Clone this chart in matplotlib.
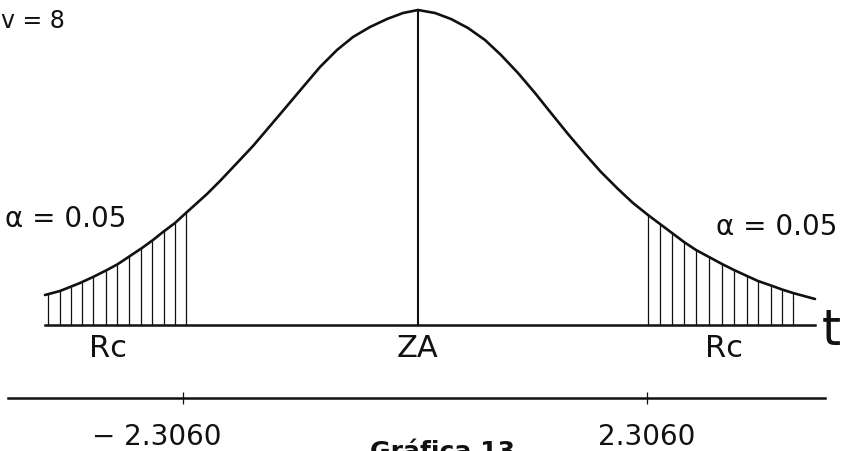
import numpy as np
import matplotlib
matplotlib.use("Agg")
import matplotlib.pyplot as plt
from matplotlib.transforms import ScaledTranslation, blended_transform_factory

# -----------------------------
# DATA
# -----------------------------
df = 8
alpha = 0.05
t_crit = 2.3060

# hand drawn curve: t value and height above the base line
curve_t = [-3.73, -3.58, -3.48, -3.38, -3.25, -3.11, -3.00, -2.88, -2.76, -2.65,
           -2.55, -2.43, -2.31, -2.11, -1.98, -1.81, -1.65, -1.48, -1.31, -1.15,
           -0.98, -0.81, -0.65, -0.48, -0.31, -0.15, 0.00, 0.17, 0.33, 0.50,
           0.67, 0.83, 1.00, 1.17, 1.33, 1.50, 1.67, 1.83, 2.00, 2.15,
           2.30, 2.42, 2.54, 2.66, 2.78, 2.91, 3.04, 3.16, 3.29, 3.40,
           3.53, 3.64, 3.75, 3.97]
curve_h = [30, 34, 38, 42, 48, 55, 61, 69, 77, 85,
           93, 102, 113, 131, 144, 162, 179, 199, 219, 238,
           258, 275, 288, 298, 306, 312, 315, 312, 306, 297,
           285, 270, 252, 232, 212, 191, 171, 153, 136, 122,
           110, 101, 92, 83, 75, 68, 61, 55, 49, 44,
           39.5, 35.5, 32, 26]

# vertical hatch lines in the two rejection regions
hatch_left = [-3.70, -3.58, -3.47, -3.36, -3.25, -3.12, -3.01, -2.89, -2.77,
              -2.66, -2.54, -2.43, -2.32]
hatch_right = [2.30, 2.42, 2.54, 2.66, 2.78, 2.91, 3.04, 3.16, 3.29, 3.40,
               3.53, 3.64, 3.75]

INK = "#111111"

# -----------------------------
# FIGURE
# -----------------------------
fig = plt.figure(figsize=(8.43, 4.51), dpi=100)
ax = fig.add_axes([0, 0, 1, 1])
ax.set_xlim(-4.18, 4.25)
ax.set_ylim(-126, 325)
ax.axis("off")

ax.plot(curve_t, curve_h, color=INK, lw=1.9, solid_joinstyle="round",
        solid_capstyle="round")
ax.plot([curve_t[0], curve_t[-1]], [0, 0], color=INK, lw=1.8)
ax.plot([0, 0], [0, max(curve_h)], color=INK, lw=1.5)

hx = np.array(hatch_left + hatch_right)
ax.vlines(hx, 0, np.interp(hx, curve_t, curve_h), color=INK, lw=0.9)

# labels on the curve
ax.text(-4.17, 297, f"v = {df}", fontsize=17, color=INK, ha="left", va="baseline")
ax.text(-3.52, 98, f"α = {alpha:.2f}", fontsize=20, color=INK, ha="center", va="baseline")
ax.text(3.59, 90, f"α = {alpha:.2f}", fontsize=20, color=INK, ha="center", va="baseline")
ax.text(-3.10, -32, "Rc", fontsize=22, color=INK, ha="center", va="baseline")
ax.text(0.0, -32, "ZA", fontsize=22, color=INK, ha="center", va="baseline")
ax.text(3.06, -32, "Rc", fontsize=22, color=INK, ha="center", va="baseline")
ax.text(4.13, -20, "t", fontsize=35, color=INK, ha="center", va="baseline")

# -----------------------------
# lower t axis with critical values
# -----------------------------
ax2 = fig.add_axes([0, 1 - 398 / 451, 1, 0.001])
ax2.set_xlim(-4.125, 4.254)
for s in ["top", "left", "right"]:
    ax2.spines[s].set_visible(False)
ax2.spines["bottom"].set_bounds(-4.046, 4.076)
ax2.spines["bottom"].set_linewidth(1.8)
ax2.spines["bottom"].set_color(INK)
ax2.set_yticks([])
ax2.set_xticks([-t_crit, t_crit])
ax2.tick_params(axis="x", direction="inout", length=8.5, width=0.9, color=INK,
                labelbottom=False)
ax2.patch.set_visible(False)

tr = blended_transform_factory(ax2.transData, fig.transFigure)
y_lab = 1 - 445 / 451
ax2.text(-t_crit, y_lab, f"\u2212 {t_crit:.4f}", fontsize=20, color=INK,
         ha="center", va="baseline",
         transform=tr + ScaledTranslation(-0.26, 0, fig.dpi_scale_trans))
ax2.text(t_crit, y_lab, f"{t_crit:.4f}", fontsize=20, color=INK,
         ha="center", va="baseline", transform=tr)

# caption, cut by the lower edge as in the scan
fig.text(443 / 843, 1 - 440 / 451, "Gráfica 13", fontsize=18, fontweight="bold",
         color=INK, ha="center", va="top")

fig.savefig("out.png", dpi=100, facecolor="white")
